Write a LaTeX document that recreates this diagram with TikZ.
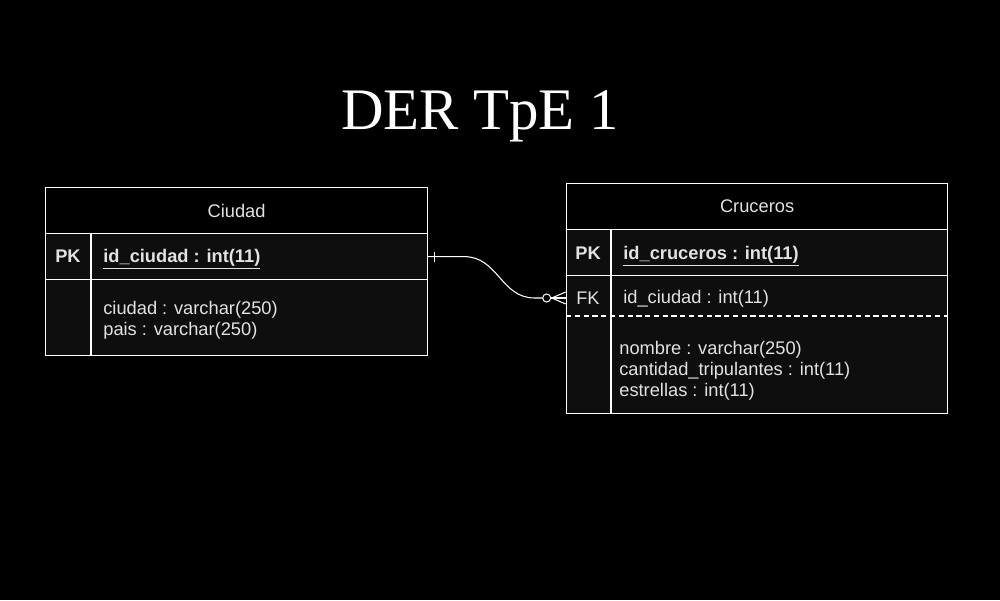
\documentclass[tikz,border=0pt]{standalone}
\usepackage{fontspec}
\setmainfont{Liberation Serif}
\setsansfont{Liberation Sans}
\usetikzlibrary{positioning}

\definecolor{fondo}{HTML}{000000}
\definecolor{fila}{HTML}{0E0E0E}
\definecolor{letra}{HTML}{E2E2E2}

\tikzset{
  tabla/.style={draw=white, line width=0.7pt},
  cabecera/.style={tabla, fill=fondo, text=letra, inner sep=0pt, font=\sffamily\fontsize{10.4}{12}\selectfont},
  fila/.style={tabla, fill=fila, inner sep=0pt},
  clave/.style={text=letra, inner sep=0pt, font=\sffamily\bfseries\fontsize{10.4}{12}\selectfont},
  campo/.style={text=letra, inner sep=0pt, anchor=west, align=left, font=\sffamily\fontsize{10.4}{12}\selectfont},
  rel/.style={draw=white, line width=0.6pt}
}

\begin{document}
\begin{tikzpicture}[x=0.02cm, y=-0.02cm]

\fill[fondo] (0,0) rectangle (1000,600);
\useasboundingbox (0,0) rectangle (1000,600);

\node[text=white, inner sep=0pt, anchor=base, font=\fontsize{33.5}{40}\selectfont] (titulo) at (480,129) {DER TpE 1};

% Ciudad
\node[cabecera, minimum width=7.64cm, minimum height=0.92cm, anchor=north west] (ciudadtit) at (45,187) {Ciudad};
\node[fila, minimum width=7.64cm, minimum height=0.92cm, anchor=north west] (ciudadpk) at (45,233) {};
\node[fila, minimum width=7.64cm, minimum height=1.52cm, anchor=north west] (ciudadcpo) at (45,279) {};
\draw[tabla] (91,233) -- (91,355);

\node[clave] (ciudadpklbl) at (68,256) {PK};
\node[campo, anchor=base west, font=\sffamily\bfseries\fontsize{10.4}{12}\selectfont] (ciudadpkcampo) at (103,262) {\underline{id\_ciudad : int(11)}};
\node[campo] (ciudadattr) at (103,320) {ciudad : varchar(250)\\pais : varchar(250)};

% Cruceros
\node[cabecera, minimum width=7.62cm, minimum height=0.92cm, anchor=north west] (crucerostit) at (566,183) {Cruceros};
\node[fila, minimum width=7.62cm, minimum height=0.92cm, anchor=north west] (crucerospk) at (566,229) {};
\node[fila, minimum width=7.62cm, minimum height=2.76cm, anchor=north west] (cruceroscpo) at (566,275) {};
\node[minimum width=7.62cm, minimum height=0.92cm, inner sep=0pt] (crucerosfk) at (756.5,298) {};
\draw[tabla] (611,229) -- (611,413);
\draw[tabla, dash pattern=on 3pt off 2pt] (566,316) -- (947,316);

\node[clave] (crucerospklbl) at (588,253) {PK};
\node[campo, anchor=base west, font=\sffamily\bfseries\fontsize{10.4}{12}\selectfont] (crucerospkcampo) at (623,259) {\underline{id\_cruceros : int(11)}};
\node[clave, font=\sffamily\fontsize{10.4}{12}\selectfont] (crucerosfklbl) at (588,298) {FK};
\node[campo] (crucerosfkcampo) at (623,298.5) {id\_ciudad : int(11)};
\node[campo] (crucerosattr) at (619,370.5) {nombre : varchar(250)\\cantidad\_tripulantes : int(11)\\estrellas : int(11)};

% relacion uno a muchos
\node[circle, draw=white, line width=0.6pt, fill=fondo, inner sep=0pt, minimum size=0.16cm] (cero) at ([xshift=-0.38cm]crucerosfk.west) {};
\coordinate (pie) at ([xshift=-0.28cm]crucerosfk.west);

\draw[rel] (ciudadpk.east) -- ++(36,0) .. controls +(34,0) and +(-34,0) .. ([xshift=-0.62cm]crucerosfk.west) -- (cero);
\draw[rel] (cero) -- (crucerosfk.west);
\draw[rel] ([shift={(6,-5)}]ciudadpk.east) -- ++(0,10);
\draw[rel] (pie) -- ([shift={(0,-6)}]crucerosfk.west);
\draw[rel] (pie) -- ([shift={(0,6)}]crucerosfk.west);

\end{tikzpicture}
\end{document}
